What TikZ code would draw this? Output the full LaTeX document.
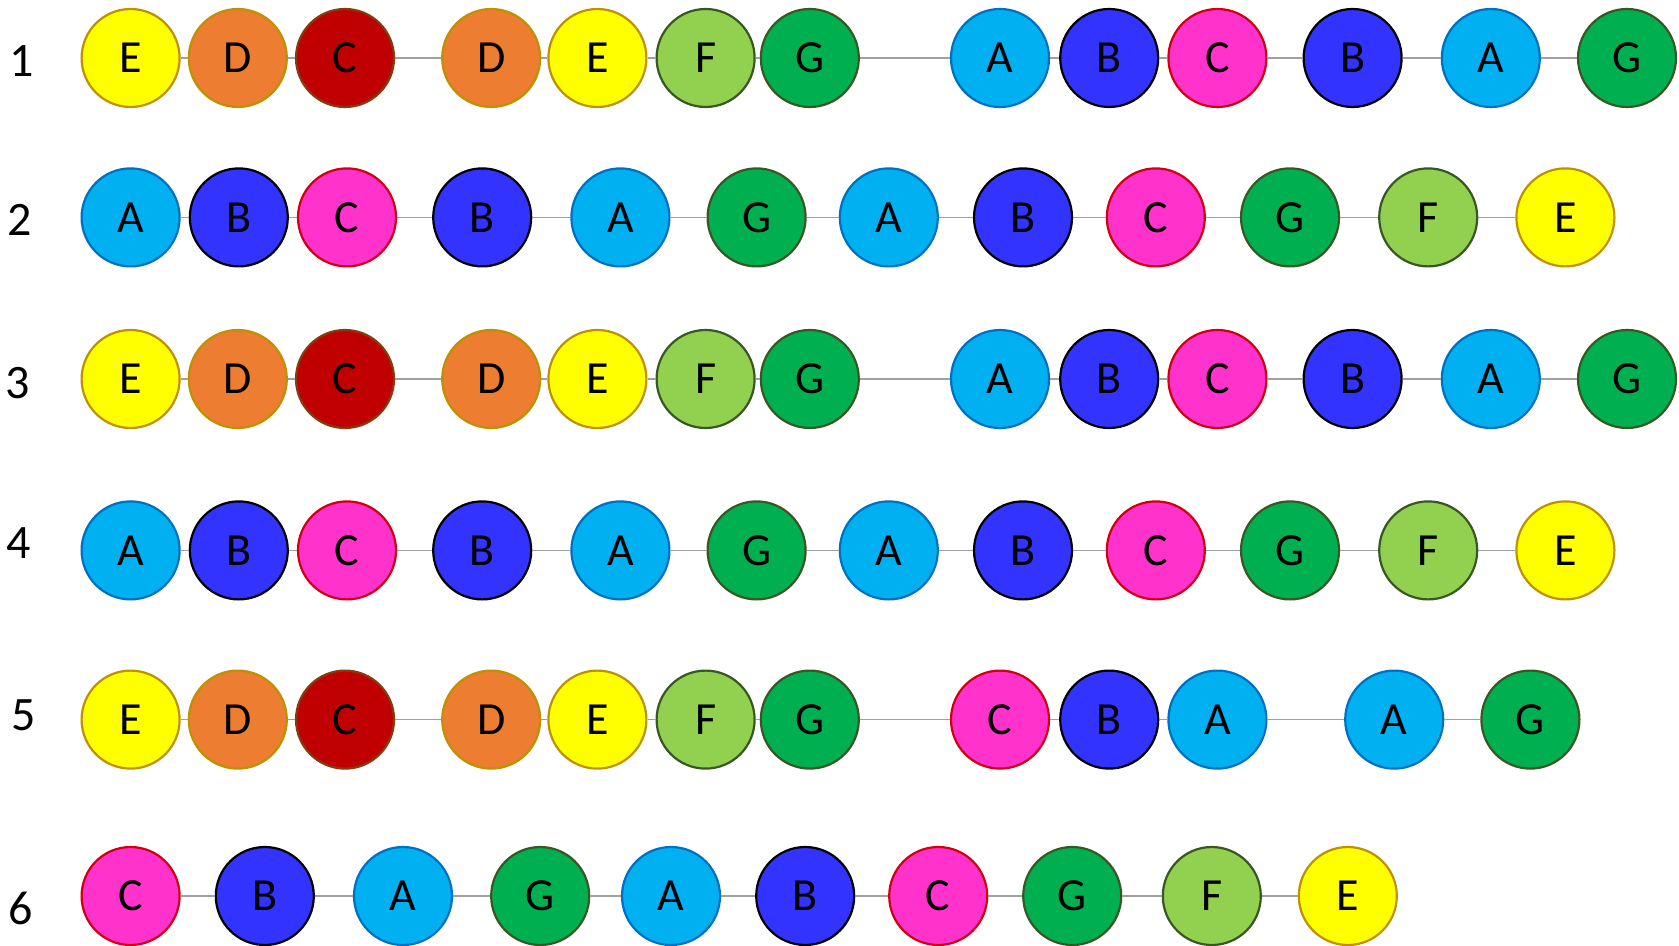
\documentclass[tikz,border=0pt]{standalone}
\usepackage{fontspec}
\setmainfont{Carlito}
\usepackage{tikz}
\usetikzlibrary{positioning}
\usepackage{xcolor}
\definecolor{ballyellow}{HTML}{FFFF00}
\definecolor{ballorange}{HTML}{ED7D31}
\definecolor{ballred}{HTML}{C00000}
\definecolor{balllime}{HTML}{92D050}
\definecolor{ballgreen}{HTML}{00B050}
\definecolor{ballsky}{HTML}{00B0F0}
\definecolor{ballblue}{HTML}{3333FF}
\definecolor{ballpink}{HTML}{FF33CC}
\definecolor{rimgold}{HTML}{BF9000}
\definecolor{rimbrown}{HTML}{843C0C}
\definecolor{rimgreen}{HTML}{385723}
\definecolor{rimsky}{HTML}{0070C0}
\definecolor{rimred}{HTML}{D00010}
\definecolor{linkgray}{HTML}{A0A0A0}

\begin{document}
\begin{tikzpicture}[
  ball/.style={circle,line width=1.1pt,minimum size=49pt,inner sep=0pt,text depth=-1pt,font=\fontsize{23}{25}\selectfont},
  yellowball/.style={ball,fill=ballyellow,draw=rimgold},
  orangeball/.style={ball,fill=ballorange,draw=rimgold},
  redball/.style={ball,fill=ballred,draw=rimbrown},
  limeball/.style={ball,fill=balllime,draw=rimgreen},
  greenball/.style={ball,fill=ballgreen,draw=rimgreen},
  skyball/.style={ball,fill=ballsky,draw=rimsky},
  blueball/.style={ball,fill=ballblue,draw=black},
  pinkball/.style={ball,fill=ballpink,draw=rimred},
  link/.style={draw=linkgray,line width=0.75pt},
  rowlabel/.style={font=\fontsize{24}{26}\selectfont}]
\useasboundingbox (0,0) rectangle (839.5pt,-473pt);

% row labels
\node (lab1) [rowlabel] at (10.7pt,-30.5pt) {1};
\node (lab2) [rowlabel] at (10pt,-110pt) {2};
\node (lab3) [rowlabel] at (8.7pt,-191.5pt) {3};
\node (lab4) [rowlabel] at (9.2pt,-271.5pt) {4};
\node (lab5) [rowlabel] at (11.8pt,-357.6pt) {5};
\node (lab6) [rowlabel] at (10.3pt,-454pt) {6};

% row 1
\node (r1n1) [yellowball] at (65.3pt,-29pt) {E};
\node (r1n2) [orangeball,right=3.5pt of r1n1] {D};
\node (r1n3) [redball,right=3.5pt of r1n2] {C};
\node (r1n4) [orangeball,right=23pt of r1n3] {D};
\node (r1n5) [yellowball,right=3pt of r1n4] {E};
\node (r1n6) [limeball,right=4pt of r1n5] {F};
\node (r1n7) [greenball,right=2pt of r1n6] {G};
\node (r1n8) [skyball,right=45pt of r1n7] {A};
\node (r1n9) [blueball,right=4.5pt of r1n8] {B};
\node (r1n10) [pinkball,right=4pt of r1n9] {C};
\node (r1n11) [blueball,right=17.5pt of r1n10] {B};
\node (r1n12) [skyball,right=19pt of r1n11] {A};
\node (r1n13) [greenball,right=18pt of r1n12] {G};
\draw [link] (r1n1) -- (r1n2) -- (r1n3) -- (r1n4) -- (r1n5) -- (r1n6) -- (r1n7)
  -- (r1n8) -- (r1n9) -- (r1n10) -- (r1n11) -- (r1n12) -- (r1n13);

% row 2
\node (r2n1) [skyball] at (65.3pt,-108.7pt) {A};
\node (r2n2) [blueball,right=4pt of r2n1] {B};
\node (r2n3) [pinkball,right=4pt of r2n2] {C};
\node (r2n4) [blueball,right=17.5pt of r2n3] {B};
\node (r2n5) [skyball,right=19pt of r2n4] {A};
\node (r2n6) [greenball,right=18pt of r2n5] {G};
\node (r2n7) [skyball,right=16pt of r2n6] {A};
\node (r2n8) [blueball,right=17pt of r2n7] {B};
\node (r2n9) [pinkball,right=16.3pt of r2n8] {C};
\node (r2n10) [greenball,right=17pt of r2n9] {G};
\node (r2n11) [limeball,right=19pt of r2n10] {F};
\node (r2n12) [yellowball,right=18.5pt of r2n11] {E};
\draw [link] (r2n1) -- (r2n2) -- (r2n3) -- (r2n4) -- (r2n5) -- (r2n6) -- (r2n7)
  -- (r2n8) -- (r2n9) -- (r2n10) -- (r2n11) -- (r2n12);

% row 3
\node (r3n1) [yellowball] at (65.3pt,-189.5pt) {E};
\node (r3n2) [orangeball,right=3.5pt of r3n1] {D};
\node (r3n3) [redball,right=3.5pt of r3n2] {C};
\node (r3n4) [orangeball,right=23pt of r3n3] {D};
\node (r3n5) [yellowball,right=3pt of r3n4] {E};
\node (r3n6) [limeball,right=4pt of r3n5] {F};
\node (r3n7) [greenball,right=2pt of r3n6] {G};
\node (r3n8) [skyball,right=45pt of r3n7] {A};
\node (r3n9) [blueball,right=4.5pt of r3n8] {B};
\node (r3n10) [pinkball,right=4pt of r3n9] {C};
\node (r3n11) [blueball,right=17.5pt of r3n10] {B};
\node (r3n12) [skyball,right=19pt of r3n11] {A};
\node (r3n13) [greenball,right=18pt of r3n12] {G};
\draw [link] (r3n1) -- (r3n2) -- (r3n3) -- (r3n4) -- (r3n5) -- (r3n6) -- (r3n7)
  -- (r3n8) -- (r3n9) -- (r3n10) -- (r3n11) -- (r3n12) -- (r3n13);

% row 4
\node (r4n1) [skyball] at (65.3pt,-275.2pt) {A};
\node (r4n2) [blueball,right=4pt of r4n1] {B};
\node (r4n3) [pinkball,right=4pt of r4n2] {C};
\node (r4n4) [blueball,right=17.5pt of r4n3] {B};
\node (r4n5) [skyball,right=19pt of r4n4] {A};
\node (r4n6) [greenball,right=18pt of r4n5] {G};
\node (r4n7) [skyball,right=16pt of r4n6] {A};
\node (r4n8) [blueball,right=17pt of r4n7] {B};
\node (r4n9) [pinkball,right=16.3pt of r4n8] {C};
\node (r4n10) [greenball,right=17pt of r4n9] {G};
\node (r4n11) [limeball,right=19pt of r4n10] {F};
\node (r4n12) [yellowball,right=18.5pt of r4n11] {E};
\draw [link] (r4n1) -- (r4n2) -- (r4n3) -- (r4n4) -- (r4n5) -- (r4n6) -- (r4n7)
  -- (r4n8) -- (r4n9) -- (r4n10) -- (r4n11) -- (r4n12);

% row 5
\node (r5n1) [yellowball] at (65.3pt,-359.8pt) {E};
\node (r5n2) [orangeball,right=3.5pt of r5n1] {D};
\node (r5n3) [redball,right=3.5pt of r5n2] {C};
\node (r5n4) [orangeball,right=23pt of r5n3] {D};
\node (r5n5) [yellowball,right=3pt of r5n4] {E};
\node (r5n6) [limeball,right=4pt of r5n5] {F};
\node (r5n7) [greenball,right=2pt of r5n6] {G};
\node (r5n8) [pinkball,right=45pt of r5n7] {C};
\node (r5n9) [blueball,right=4.5pt of r5n8] {B};
\node (r5n10) [skyball,right=4pt of r5n9] {A};
\node (r5n11) [skyball,right=38.3pt of r5n10] {A};
\node (r5n12) [greenball,right=18pt of r5n11] {G};
\draw [link] (r5n1) -- (r5n2) -- (r5n3) -- (r5n4) -- (r5n5) -- (r5n6) -- (r5n7)
  -- (r5n8) -- (r5n9) -- (r5n10) -- (r5n11) -- (r5n12);

% row 6
\node (r6n1) [pinkball] at (65.3pt,-448pt) {C};
\node (r6n2) [blueball,right=17pt of r6n1] {B};
\node (r6n3) [skyball,right=19pt of r6n2] {A};
\node (r6n4) [greenball,right=18.5pt of r6n3] {G};
\node (r6n5) [skyball,right=15.3pt of r6n4] {A};
\node (r6n6) [blueball,right=17pt of r6n5] {B};
\node (r6n7) [pinkball,right=16.4pt of r6n6] {C};
\node (r6n8) [greenball,right=16.9pt of r6n7] {G};
\node (r6n9) [limeball,right=19.7pt of r6n8] {F};
\node (r6n10) [yellowball,right=17.9pt of r6n9] {E};
\draw [link] (r6n1) -- (r6n2) -- (r6n3) -- (r6n4) -- (r6n5) -- (r6n6) -- (r6n7)
  -- (r6n8) -- (r6n9) -- (r6n10);
\end{tikzpicture}
\end{document}
